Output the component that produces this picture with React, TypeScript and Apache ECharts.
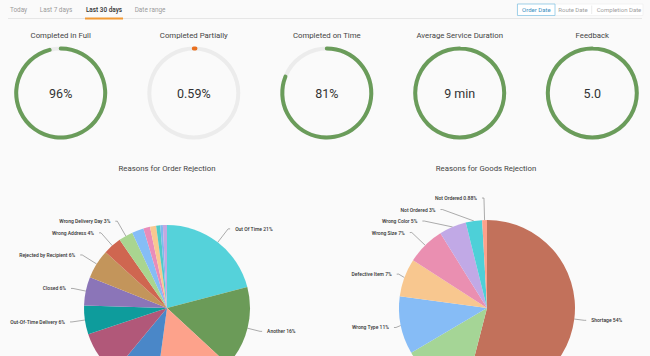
import React, { useEffect, useRef } from "react";
import * as echarts from "echarts";

// ---- data ----
const tabLabels = ["Today", "Last 7 days", "Last 30 days", "Date range"];
const activeTab = 2;
const dateButtons = ["Order Date", "Route Date", "Completion Date"];

const gaugeTitles = ["Completed in Full", "Completed Partially", "Completed on Time", "Average Service Duration", "Feedback"];
const gaugeValues = [96, 0.59, 81, 9, 5.0];
const gaugeMax = [100, 100, 100, 9, 5];
const gaugeTexts = ["96%", "0.59%", "81%", "9 min", "5.0"];
const gaugeColors = ["#6a9c5a", "#e9701f", "#6a9c5a", "#6a9c5a", "#6a9c5a"];

const orderTitle = "Reasons for Order Rejection";
const orderNames = [
  "Out Of Time", "Another", "Refused", "Not at Home", "Damaged", "Out-Of-Time Delivery", "Closed",
  "Rejected by Recipient", "Wrong Address", "Wrong Delivery Day", "Other 1", "Other 2", "Other 3", "Other 4", "Other 5", "Other 6",
];
const orderValues = [21, 16, 15.3, 8.9, 8.9, 5.6, 5.6, 5.7, 3.6, 2.8, 2.3, 1.3, 1.2, 0.8, 0.5, 0.8];
const orderShowLabel = [true, true, false, false, false, true, true, true, true, true, false, false, false, false, false, false];
const orderColors = [
  "#55d2da", "#6b9b58", "#fda28b", "#4a87c8", "#b15879", "#0e9c9c", "#8b75b8", "#c3955b",
  "#cf6650", "#a9d590", "#85bdf6", "#e98cb9", "#f8c890", "#4fcbc8", "#80b8ef", "#c4a8e0",
];

const goodsTitle = "Reasons for Goods Rejection";
const goodsNames = ["Shortage", "Damaged", "Wrong Type", "Defective Item", "Wrong Size", "Wrong Color", "Not Ordered", "Not Ordered"];
const goodsValues = [54, 12.5, 10.6, 7, 7, 5, 3, 0.88];
const goodsShowLabel = [true, false, true, true, true, true, true, true];
const goodsColors = ["#c2715b", "#a5d596", "#86bcf6", "#f8c78f", "#ea8fb1", "#c1a9e6", "#4dd0d8", "#fda18b"];

const FONT = "Roboto, 'Noto Sans', sans-serif";

function fmtPct(v: number) {
  return v >= 1 ? String(Math.round(v)) : v.toFixed(2);
}

export default function App() {
  const ref = useRef<HTMLDivElement>(null);

  useEffect(() => {
    if (!ref.current) return;
    document.body.style.margin = "0";
    const chart = echarts.init(ref.current, undefined, { renderer: "svg" });

    const gaugeCx = [60.7, 193.8, 326.8, 459.7, 592.3];
    const gaugeCy = 93;

    const gauges = gaugeValues.map((v, i) => ({
      type: "gauge",
      center: [gaugeCx[i], gaugeCy],
      radius: 46.5,
      startAngle: 90,
      endAngle: -270,
      min: 0,
      max: gaugeMax[i],
      silent: true,
      progress: { show: true, width: 4, roundCap: true, itemStyle: { color: gaugeColors[i] } },
      axisLine: { roundCap: true, lineStyle: { width: 4, color: [[1, "#ececec"]] } },
      pointer: { show: false },
      anchor: { show: false },
      axisTick: { show: false },
      splitLine: { show: false },
      axisLabel: { show: false },
      title: { show: false },
      detail: {
        offsetCenter: [0, 0],
        fontSize: 12.5,
        fontFamily: FONT,
        fontWeight: 400,
        color: "#333",
        formatter: () => gaugeTexts[i],
      },
      data: [{ value: v }],
    }));

    const pieLabel = {
      position: "outside",
      fontSize: 5,
      fontFamily: FONT,
      fontWeight: 500,
      color: "#333",
      lineHeight: 9.5,
      distanceToLabelLine: 5,
      overflow: "none",
      formatter: (p: any) => `${p.name} ${fmtPct(p.value)}%`,
    };

    const makePie = (
      names: string[], values: number[], show: boolean[], colors: string[],
      center: number[], radius: number, len: (i: number) => number,
    ) => ({
      type: "pie",
      center,
      radius,
      startAngle: 90,
      clockwise: true,
      silent: true,
      avoidLabelOverlap: true,
      bleedMargin: 0,
      label: pieLabel,
      labelLine: { length: 12, length2: 2, lineStyle: { color: "#888", width: 0.7 } },
      data: values.map((v, i) => ({
        name: names[i],
        value: v,
        itemStyle: { color: colors[i] },
        label: { show: show[i] },
        labelLine: { show: show[i], length: len(i), length2: 2, lineStyle: { color: "#888", width: 0.7 } },
      })),
    });

    const tabX = [18.5, 56, 104, 150];
    const graphics: any[] = [
      { type: "line", shape: { x1: 8, y1: 18.5, x2: 642, y2: 18.5 }, style: { stroke: "#e6e6e6", lineWidth: 1 } },
      ...tabLabels.map((t, i) => ({
        type: "text",
        x: tabX[i],
        y: 9.8,
        style: {
          text: t,
          textAlign: "center",
          textVerticalAlign: "middle",
          fontSize: 6.4,
          fontFamily: FONT,
          fontWeight: i === activeTab ? 500 : 400,
          fill: i === activeTab ? "#333" : "#9a9a9a",
        },
      })),
      { type: "rect", shape: { x: 85, y: 17.5, width: 38, height: 2 }, style: { fill: "#f29a35" } },
      { type: "rect", shape: { x: 517, y: 4, width: 126, height: 11.5 }, style: { fill: "#fff", stroke: "#eeeeee", lineWidth: 0.7 } },
      { type: "rect", shape: { x: 517.5, y: 4, width: 37.5, height: 11.5 }, style: { fill: "#fff", stroke: "#8cc6e4", lineWidth: 0.8 } },
      { type: "line", shape: { x1: 591.7, y1: 5.5, x2: 591.7, y2: 14 }, style: { stroke: "#e2e2e2", lineWidth: 0.7 } },
      ...dateButtons.map((t, i) => ({
        type: "text",
        x: [536.3, 573, 619][i],
        y: 9.8,
        style: {
          text: t,
          textAlign: "center",
          textVerticalAlign: "middle",
          fontSize: 6,
          fontFamily: FONT,
          fill: i === 0 ? "#3a8fc2" : "#a0a0a0",
        },
      })),
      ...gaugeTitles.map((t, i) => ({
        type: "text",
        x: gaugeCx[i],
        y: 35.3,
        style: { text: t, textAlign: "center", textVerticalAlign: "middle", fontSize: 7.8, fontFamily: FONT, fill: "#444" },
      })),
      {
        type: "text",
        x: 167,
        y: 168.3,
        style: { text: orderTitle, textAlign: "center", textVerticalAlign: "middle", fontSize: 7.8, fontFamily: FONT, fill: "#444" },
      },
      {
        type: "text",
        x: 486,
        y: 168.3,
        style: { text: goodsTitle, textAlign: "center", textVerticalAlign: "middle", fontSize: 7.8, fontFamily: FONT, fill: "#444" },
      },
    ];

    chart.setOption({
      animation: false,
      backgroundColor: "#fafafa",
      textStyle: { fontFamily: FONT },
      graphic: graphics,
      series: [
        ...gauges,
        makePie(orderNames, orderValues, orderShowLabel, orderColors, [167, 308], 83, (i) => (i === 1 || i === 5 || i === 6 ? 13 : 17)),
        makePie(goodsNames, goodsValues, goodsShowLabel, goodsColors, [487, 308], 88, (i) => (i >= 4 ? 22 : 10)),
      ],
    } as any);

    return () => chart.dispose();
  }, []);

  return <div ref={ref} style={{ position: "absolute", left: 0, top: 0, width: 650, height: 356 }} />;
}
